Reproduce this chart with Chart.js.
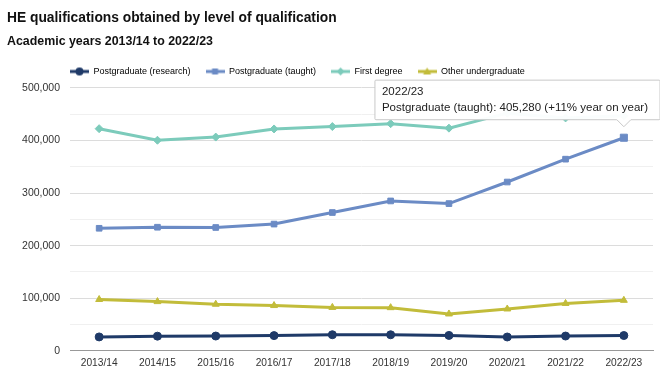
<!DOCTYPE html>
<html>
<head>
<meta charset="utf-8">
<script src="https://cdn.jsdelivr.net/npm/chart.js"></script>
<style>
  html, body { margin: 0; padding: 0; background: #fff; }
  #wrap { width: 660px; height: 379px; }
</style>
</head>
<body>
<div id="wrap"><canvas id="qualChart" width="660" height="379"></canvas></div>
<script>
const years = ['2013/14', '2014/15', '2015/16', '2016/17', '2017/18', '2018/19', '2019/20', '2020/21', '2021/22', '2022/23'];
const pgResearch = [26300, 27800, 28000, 28800, 30500, 30400, 29200, 26200, 28000, 29000];
const pgTaught = [233000, 235000, 234500, 241000, 263000, 285000, 280000, 321000, 364500, 405280];
const firstDegree = [422500, 400500, 406500, 422000, 426500, 432000, 423500, 452000, 443000, 447000];
const otherUG = [97500, 93500, 88500, 86000, 82500, 82000, 70000, 79500, 90000, 96000];
const yTicks = [0, 100000, 200000, 300000, 400000, 500000];

const FONT = '"Liberation Sans", Arial, sans-serif';
Chart.defaults.font.family = FONT;
Chart.defaults.color = '#333';

// little line + marker picture for the legend
const legendIcon = (color, style) => {
    const c = document.createElement('canvas');
    c.width = 19;
    c.height = 10;
    const g = c.getContext('2d');
    g.strokeStyle = color;
    g.fillStyle = color;
    g.lineWidth = 3;
    g.beginPath();
    g.moveTo(0, 5);
    g.lineTo(19, 5);
    g.stroke();
    g.beginPath();
    if (style == 'circle') {
        g.arc(9.5, 5, 4, 0, Math.PI * 2);
    } else if (style == 'rect') {
        g.rect(6.5, 2, 6, 6);
    } else if (style == 'rectRot') {
        g.moveTo(9.5, 1); g.lineTo(13.5, 5); g.lineTo(9.5, 9); g.lineTo(5.5, 5);
    } else {
        g.moveTo(9.5, 1); g.lineTo(13.5, 8); g.lineTo(5.5, 8);
    }
    g.closePath();
    g.fill();
    return c;
}

const series = [
    {label: 'Postgraduate (research)', data: pgResearch, color: '#1f3a68', style: 'circle'},
    {label: 'Postgraduate (taught)', data: pgTaught, color: '#6b8bc5', style: 'rect'},
    {label: 'First degree', data: firstDegree, color: '#7ccbbb', style: 'rectRot'},
    {label: 'Other undergraduate', data: otherUG, color: '#c2bc3a', style: 'triangle'}
];

const legendShift = {
    id: 'legendShift',
    afterLayout(chart) {
        // legend starts where the plot starts, and sits a bit higher
        const lg = chart.legend;
        const pad = lg.options.labels.padding;
        const dx = chart.chartArea.left - pad - lg.left;
        lg.left += dx;
        lg.right += dx;
        lg.top -= 2;
        lg.bottom -= 2;
    }
};

const ctx = document.querySelector('#qualChart');

const chart = new Chart(ctx, {
    type: 'line',
    data: {
        labels: years,
        datasets: series.map(s => ({
            label: s.label,
            data: s.data,
            borderColor: s.color,
            backgroundColor: s.color,
            borderWidth: 3,
            pointStyle: s.style,
            pointRadius: 4,
            pointHoverRadius: 5,
            pointBorderWidth: 1,
            pointHoverBackgroundColor: s.color,
            pointHoverBorderColor: s.color,
            tension: 0
        }))
    },
    options: {
        responsive: false,
        animation: false,
        events: [],
        layout: {padding: {left: 7, right: 7, top: 0, bottom: 3}},
        plugins: {
            title: {
                display: true,
                text: 'HE qualifications obtained by level of qualification',
                align: 'start',
                color: '#111',
                font: {size: 13.8, weight: 'bold'},
                padding: {top: 9.5, bottom: 8}
            },
            subtitle: {
                display: true,
                text: 'Academic years 2013/14 to 2022/23',
                align: 'start',
                color: '#111',
                font: {size: 12.4, weight: 'bold'},
                padding: {top: 0, bottom: 5}
            },
            legend: {
                align: 'start',
                labels: {
                    usePointStyle: true,
                    pointStyleWidth: 19,
                    boxHeight: 12,
                    padding: 15,
                    color: '#333',
                    font: {size: 9},
                    generateLabels: (chart) => series.map((s, i) => ({
                        text: s.label,
                        pointStyle: legendIcon(s.color, s.style),
                        fillStyle: s.color,
                        strokeStyle: s.color,
                        lineWidth: 0,
                        datasetIndex: i,
                        hidden: false
                    }))
                }
            },
            tooltip: {
                xAlign: 'center',
                yAlign: 'bottom',
                backgroundColor: 'rgba(255,255,255,0.96)',
                borderColor: '#c8c8c8',
                borderWidth: 1,
                titleColor: '#222',
                bodyColor: '#222',
                titleFont: {size: 11.5, weight: 'normal'},
                bodyFont: {size: 11.5},
                titleMarginBottom: 2,
                padding: {left: 7, right: 12, top: 5, bottom: 5},
                cornerRadius: 1,
                caretSize: 7,
                caretPadding: 11,
                displayColors: false,
                callbacks: {
                    label: (item) => {
                        const d = item.dataset.data;
                        const v = d[item.dataIndex];
                        const prev = d[item.dataIndex - 1];
                        const pct = Math.round((v / prev - 1) * 100);
                        return item.dataset.label + ': ' + v.toLocaleString('en-GB') +
                            ' (' + (pct >= 0 ? '+' : '') + pct + '% year on year)';
                    }
                }
            }
        },
        scales: {
            x: {
                offset: true,
                grid: {display: false, drawTicks: false},
                border: {display: true, color: '#999'},
                ticks: {color: '#333', font: {size: 10.2}, padding: 6.5, maxRotation: 0, autoSkip: false}
            },
            y: {
                min: 0,
                max: 500000,
                border: {display: false},
                afterFit: (scale) => { scale.width = 63; },
                grid: {
                    drawTicks: false,
                    color: (c) => (c.tick && c.tick.value % 100000 === 0) ? '#dcdcdc' : '#f0f0f0'
                },
                ticks: {
                    stepSize: 50000,
                    padding: 10,
                    color: '#333',
                    font: {size: 10.5},
                    callback: (v) => yTicks.includes(v) ? v.toLocaleString('en-GB') : ''
                }
            }
        }
    },
    plugins: [legendShift]
});

// show the tooltip for the last postgraduate (taught) point
const active = [{datasetIndex: 1, index: years.length - 1}];
chart.setActiveElements(active);
chart.tooltip.setActiveElements(active, {x: 0, y: 0});
chart.update();
</script>
</body>
</html>
